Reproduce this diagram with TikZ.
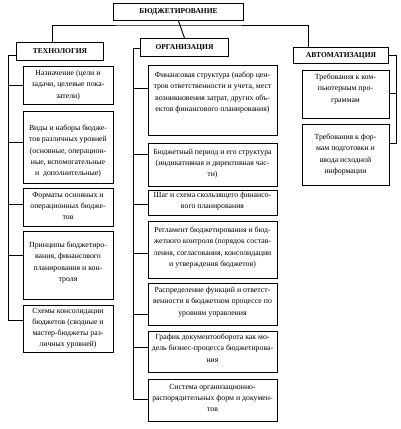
\documentclass[tikz,border=0pt]{standalone}
\usepackage{fontspec}
\setmainfont{Liberation Serif}
\begin{document}
\begin{tikzpicture}[x=1pt,y=-1pt,
  box/.style={draw, line width=0.95pt, inner sep=0pt, anchor=north west},
  head/.style={box, font=\fontsize{7.5}{9}\selectfont\bfseries},
  txt/.style={anchor=north, inner sep=0pt, align=center, font=\fontsize{7.8}{11.2}\selectfont},
  ln/.style={line width=0.95pt}]
\useasboundingbox (0,0) rectangle (400,429);
% headings
\node[head, minimum width=130pt, minimum height=17pt] (root) at (113,3) {БЮДЖЕТИРОВАНИЕ};
\node[head, minimum width=87pt, minimum height=18pt] (tech) at (16,42) {ТЕХНОЛОГИЯ};
\node[head, minimum width=88pt, minimum height=18pt] (org) at (140,38) {ОРГАНИЗАЦИЯ};
\node[head, minimum width=95pt, minimum height=16pt] (auto) at (293,47) {АВТОМАТИЗАЦИЯ};
% bus
\coordinate (bus) at (177,25);
\draw[ln] (root.south) -- (org.north);
\draw[ln] (tech.north -| 52,0) |- (bus) -| (auto.north -| 308,0);
% technology items
\node[box, minimum width=90pt, minimum height=38pt] (t1) at (23,66) {};
\node[box, minimum width=90pt, minimum height=72pt] (t2) at (23,111) {};
\node[box, minimum width=90pt, minimum height=38pt] (t3) at (23,188) {};
\node[box, minimum width=90pt, minimum height=68pt] (t4) at (23,231) {};
\node[box, minimum width=90pt, minimum height=47pt] (t5) at (23,305) {};
\node[txt] (t1t) at (68,70) {Назначение (цели и\\задачи, целевые пока-\\затели)};
\node[txt] (t2t) at (68,125) {Виды и наборы бюдже-\\тов различных уровней\\(основные, операцион-\\ные, вспомогательные\\и \ дополнительные)};
\node[txt] (t3t) at (68,192) {Форматы основных и\\операционных бюдже-\\тов};
\node[txt] (t4t) at (68,242) {Принципы бюджетиро-\\вания, финансового\\планирования и кон-\\троля};
\node[txt] (t5t) at (68,308) {Схемы консолидации\\бюджетов (сводные и\\мастер-бюджеты раз-\\личных уровней)};
\coordinate (ts) at (8,55);
\draw[ln] (tech.west |- ts) -- (ts) -- (8,320) -- (t5.west |- 0,320);
\draw[ln] (8,85) -- (t1.west |- 0,85);
\draw[ln] (8,142) -- (t2.west |- 0,142);
\draw[ln] (8,204) -- (t3.west |- 0,204);
\draw[ln] (8,255) -- (t4.west |- 0,255);
% organization items
\node[box, minimum width=129pt, minimum height=70pt] (o1) at (148,65) {};
\node[box, minimum width=129pt, minimum height=43pt] (o2) at (148,143) {};
\node[box, minimum width=129pt, minimum height=25pt] (o3) at (148,190) {};
\node[box, minimum width=129pt, minimum height=57pt] (o4) at (148,221) {};
\node[box, minimum width=129pt, minimum height=42pt] (o5) at (148,283) {};
\node[box, minimum width=129pt, minimum height=41pt] (o6) at (148,331) {};
\node[box, minimum width=129pt, minimum height=42pt] (o7) at (148,379) {};
\node[txt] (o1t) at (212.5,72) {Финансовая структура (набор цен-\\тров ответственности и учета, мест\\возникновения затрат, других объ-\\ектов финансового планирования)};
\node[txt] (o2t) at (212.5,149) {Бюджетный период и его структура\\(индикативная и директивная час-\\ти)};
\node[txt] (o3t) at (212.5,192) {Шаг и схема скользящего финансо-\\вого планирования};
\node[txt] (o4t) at (212.5,227) {Регламент бюджетирования и бюд-\\жетного контроля (порядок состав-\\ления, согласования, консолидации\\и утверждения бюджетов)};
\node[txt] (o5t) at (212.5,287) {Распределение функций и ответст-\\венности в бюджетном процессе по\\уровням управления};
\node[txt] (o6t) at (212.5,334) {График документооборота как мо-\\дель бизнес-процесса бюджетирова-\\ния};
\node[txt] (o7t) at (212.5,384) {Система организационно-\\распорядительных форм и докумен-\\тов};
\coordinate (os) at (133,48);
\draw[ln] (org.west |- os) -- (os) -- (133,399) -- (o7.west |- 0,399);
\draw[ln] (133,88) -- (o1.west |- 0,88);
\draw[ln] (133,154) -- (o2.west |- 0,154);
\draw[ln] (133,204) -- (o3.west |- 0,204);
\draw[ln] (133,253) -- (o4.west |- 0,253);
\draw[ln] (133,314) -- (o5.west |- 0,314);
\draw[ln] (133,347) -- (o6.west |- 0,347);
% automation items
\node[box, minimum width=87pt, minimum height=48pt] (a1) at (302,70) {};
\node[box, minimum width=87pt, minimum height=61pt] (a2) at (302,124) {};
\node[txt] (a1t) at (345.5,74) {Требования к ком-\\пьютерным про-\\граммам};
\node[txt] (a2t) at (345.5,134) {Требования к фор-\\мам подготовки и\\ввода исходной\\информации};
\coordinate (as) at (396,55);
\draw[ln] (auto.east |- as) -- (as) -- (396,143) -- (a2.east |- 0,143);
\draw[ln] (396,93) -- (a1.east |- 0,93);
\end{tikzpicture}
\end{document}
